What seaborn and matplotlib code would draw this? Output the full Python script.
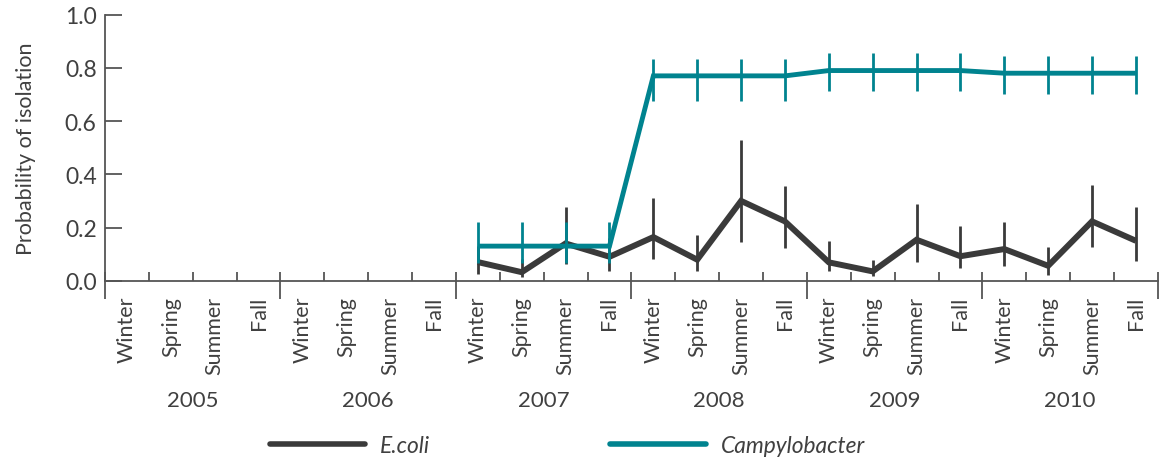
import numpy as np
import pandas as pd
import matplotlib
matplotlib.use("Agg")
import matplotlib.pyplot as plt
from matplotlib.lines import Line2D
import seaborn as sns

# ---- data -------------------------------------------------------------
years = [2005, 2006, 2007, 2008, 2009, 2010]
seasons = ["Winter", "Spring", "Summer", "Fall"]
sampled_years = [2007, 2008, 2009, 2010]

ecoli = [0.07, 0.032, 0.14, 0.09,
         0.164, 0.079, 0.30, 0.223,
         0.069, 0.035, 0.154, 0.092,
         0.119, 0.056, 0.223, 0.15]
ecoli_lo = [0.025, 0.015, 0.063, 0.037,
            0.082, 0.036, 0.145, 0.122,
            0.035, 0.016, 0.069, 0.047,
            0.056, 0.023, 0.126, 0.073]
ecoli_hi = [0.13, 0.08, 0.277, 0.16,
            0.311, 0.172, 0.53, 0.357,
            0.148, 0.079, 0.288, 0.207,
            0.22, 0.126, 0.36, 0.276]

campy = [0.13, 0.13, 0.13, 0.13,
         0.77, 0.77, 0.77, 0.77,
         0.79, 0.79, 0.79, 0.79,
         0.78, 0.78, 0.78, 0.78]
campy_lo = [0.065, 0.065, 0.065, 0.065,
            0.675, 0.675, 0.675, 0.675,
            0.713, 0.713, 0.713, 0.713,
            0.70, 0.70, 0.70, 0.70]
campy_hi = [0.22, 0.22, 0.22, 0.22,
            0.835, 0.835, 0.835, 0.835,
            0.856, 0.856, 0.856, 0.856,
            0.845, 0.845, 0.845, 0.845]

yticks = [0.0, 0.2, 0.4, 0.6, 0.8, 1.0]

# ---- styling ------------------------------------------------------------
ECOLI_C = "#3a3a3a"
CAMPY_C = "#00838f"
AXIS_C = "#555555"
TEXT_C = "#404040"

sns.set_style("ticks")
plt.rcParams["font.family"] = ["Lato", "DejaVu Sans"]
plt.rcParams["text.color"] = TEXT_C

# slot index for each season of each year (one slot per season)
slot_of = {(y, s): i * 4 + j for i, y in enumerate(years) for j, s in enumerate(seasons)}
slots = [slot_of[(y, s)] for y in sampled_years for s in seasons]

df = pd.DataFrame({
    "slot": slots * 2,
    "value": ecoli + campy,
    "organism": ["E.coli"] * len(slots) + ["Campylobacter"] * len(slots),
})

fig = plt.figure(figsize=(11.59, 4.60), dpi=100)
ax = fig.add_axes([0.0906, 0.3876, 0.9084, 0.5783])

# E.coli: error bars then line
ax.vlines(slots, ecoli_lo, ecoli_hi, color=ECOLI_C, lw=2.0, zorder=2)
sns.lineplot(data=df[df.organism == "E.coli"], x="slot", y="value",
             color=ECOLI_C, lw=4.3, ax=ax, legend=False, zorder=3,
             solid_capstyle="butt", solid_joinstyle="miter")
# Campylobacter on top
ax.vlines(slots, campy_lo, campy_hi, color=CAMPY_C, lw=2.0, zorder=4)
sns.lineplot(data=df[df.organism == "Campylobacter"], x="slot", y="value",
             color=CAMPY_C, lw=3.5, ax=ax, legend=False, zorder=5,
             solid_capstyle="butt", solid_joinstyle="miter")

n_slots = len(years) * len(seasons)
ax.set_xlim(-0.5, n_slots - 0.5)
ax.set_ylim(0, 1.0)

# spines
sns.despine(ax=ax, top=True, right=True)
for side in ("left", "bottom"):
    ax.spines[side].set_color(AXIS_C)
    ax.spines[side].set_linewidth(1.3)

# y axis: inward ticks
ax.set_yticks(yticks)
ax.set_yticklabels([f"{v:.1f}" for v in yticks])
ax.tick_params(axis="y", direction="in", length=12, width=1.3, color=AXIS_C,
               labelsize=16.5, labelcolor=TEXT_C, pad=6)
ax.set_ylabel("Probability of isolation", fontsize=15.5, color=TEXT_C, labelpad=21)

# x axis: season labels at slot centres, short inward ticks at slot edges
ax.set_xticks(np.arange(n_slots))
ax.set_xticklabels(seasons * len(years), rotation=90)
ax.tick_params(axis="x", which="major", length=0, labelsize=15.5,
               labelcolor=TEXT_C, pad=11)
ax.xaxis.remove_overlapping_locs = False
ax.set_xticks(np.arange(n_slots + 1) - 0.5, minor=True)
ax.tick_params(axis="x", which="minor", direction="in", length=6.5, width=1.3,
               color=AXIS_C)
ax.set_xlabel("")

# year separators extend below the axis
sep = ax.secondary_xaxis("bottom")
sep.set_xticks(np.arange(0, n_slots + 1, 4) - 0.5)
sep.set_xticklabels([])
sep.tick_params(direction="out", length=13, width=1.3, color=AXIS_C)
sep.spines["bottom"].set_visible(False)

# year labels centred under each group of seasons
yr = ax.secondary_xaxis("bottom")
yr.set_xticks(np.arange(len(years)) * 4 + 1.5)
yr.set_xticklabels([str(y) for y in years])
yr.tick_params(length=0, labelsize=16, labelcolor=TEXT_C, pad=79)
yr.spines["bottom"].set_visible(False)

ax.grid(False)

handles = [Line2D([], [], color=ECOLI_C, lw=4.0, solid_capstyle="round"),
           Line2D([], [], color=CAMPY_C, lw=4.0, solid_capstyle="round")]
fig.legend(handles, ["E.coli", "Campylobacter"], loc="center",
           bbox_to_anchor=(0.4896, 0.03), ncol=2, frameon=False,
           handlelength=4.2, handletextpad=0.66, columnspacing=7.9,
           prop={"size": 16.4, "style": "italic"})

fig.savefig("out.png", dpi=100)
